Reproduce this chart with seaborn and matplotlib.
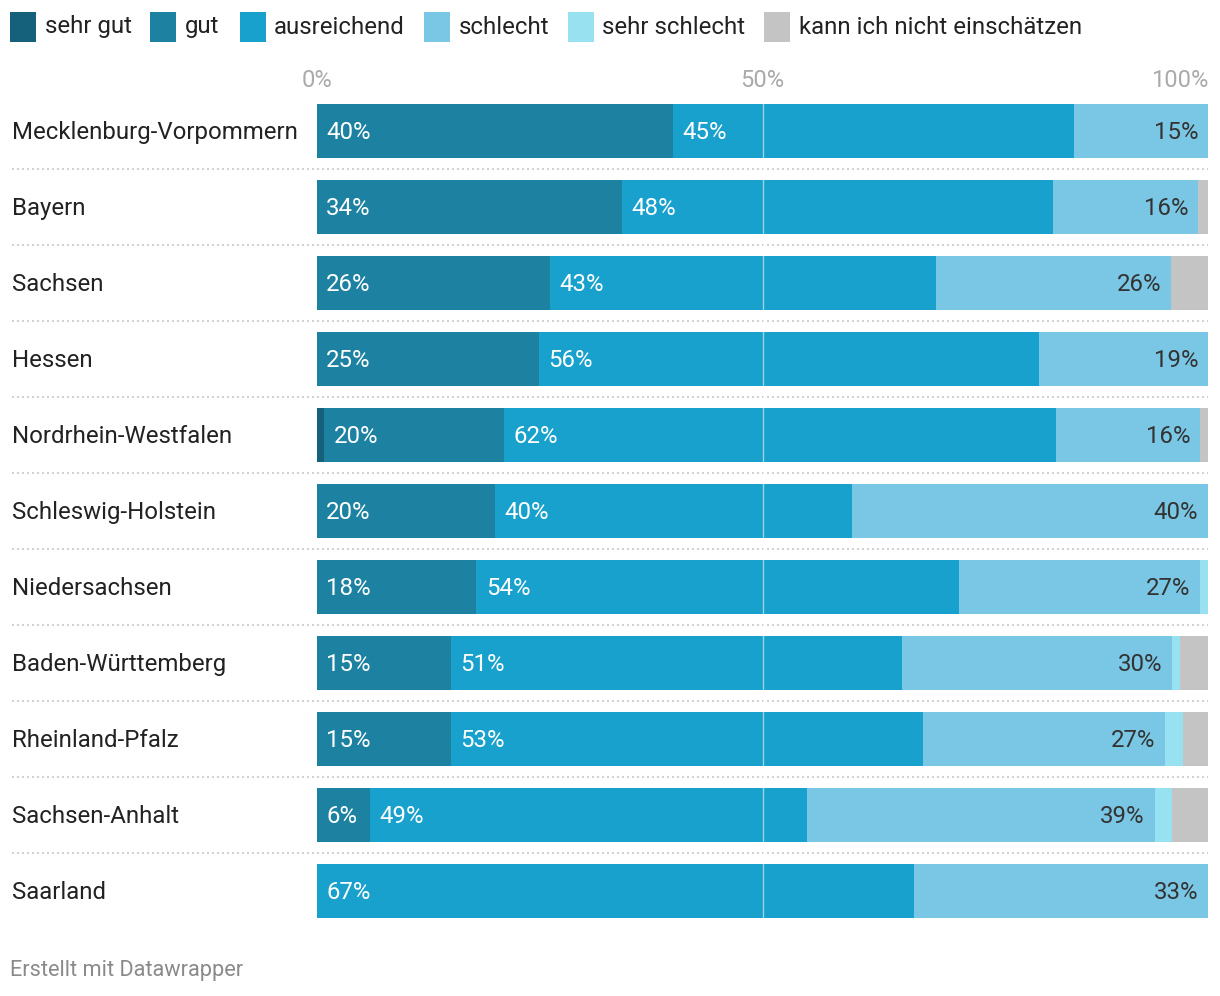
import matplotlib
matplotlib.use("Agg")
import matplotlib.pyplot as plt
import seaborn as sns
import pandas as pd
import numpy as np
from matplotlib.patches import Rectangle

sns.set_theme(style="white")
plt.rcParams['font.family'] = ['Roboto', 'DejaVu Sans']

regions = ["Mecklenburg-Vorpommern", "Bayern", "Sachsen", "Hessen", "Nordrhein-Westfalen",
           "Schleswig-Holstein", "Niedersachsen", "Baden-Württemberg", "Rheinland-Pfalz",
           "Sachsen-Anhalt", "Saarland"]
categories = ["sehr gut", "gut", "ausreichend", "schlecht", "sehr schlecht", "kann ich nicht einschätzen"]
sehr_gut      = [0, 0,    0,    0,    0.8, 0,  0,    0,    0,    0,    0]
gut           = [40, 34.2, 26.1, 24.9, 20.2, 20, 17.9, 15.0, 15.0, 6.0, 0]
ausreichend   = [45, 48.4, 43.4, 56.1, 61.9, 40, 54.1, 50.7, 53.0, 49.0, 67]
schlecht      = [15, 16.3, 26.4, 19.0, 16.2, 40, 27.1, 30.3, 27.2, 39.0, 33]
sehr_schlecht = [0, 0,    0,    0,    0,    0,  0.9,  0.9,  2.0,  2.0,  0]
kann_nicht    = [0, 1.1,  4.1,  0,    0.9,  0,  0,    3.1,  2.8,  4.0,  0]
colors = ["#15607a", "#1d81a2", "#18a1cd", "#79c7e4", "#98e1f0", "#c4c4c4"]
tick_values = [0, 50, 100]
tick_labels = ["0%", "50%", "100%"]

series = [sehr_gut, gut, ausreichend, schlecht, sehr_schlecht, kann_nicht]
df = pd.DataFrame({c: s for c, s in zip(categories, series)}, index=regions)
cum = df.cumsum(axis=1)
starts = cum - df

W, H = 1220, 996
fig = plt.figure(figsize=(W / 100, H / 100), dpi=100)
ax_left, ax_right = 317 / W, 1208 / W
ax_top, ax_bot = 93 / H, 929 / H
ax = fig.add_axes([ax_left, 1 - ax_bot, ax_right - ax_left, ax_bot - ax_top])

for i in range(len(categories) - 1, -1, -1):
    d = pd.DataFrame({"region": regions, "value": cum.iloc[:, i].values})
    sns.barplot(data=d, x="value", y="region", order=regions, color=colors[i],
                width=0.71, orient="h", ax=ax, saturation=1, linewidth=0, zorder=2)

ax.set_xlim(0, 100)
ax.set_ylim(len(regions) - 0.5, -0.5)
ax.axvline(50, color="white", alpha=0.55, lw=1, zorder=3)

dy = 0.025
# value labels
for r, reg in enumerate(regions):
    for i, cat in enumerate(categories):
        v = df.loc[reg, cat]
        if v < 5:
            continue
        if i <= 2:
            ax.text(starts.loc[reg, cat] + 1.05, r + dy, f"{round(v)}%", color="white",
                    va="center", ha="left", fontsize=17.3, zorder=4)
        elif i == 3:
            ax.text(cum.loc[reg, cat] - 1.1, r + dy, f"{round(v)}%", color="#333333",
                    va="center", ha="right", fontsize=17.3, zorder=4)

# separators
for r in range(len(regions) - 1):
    ax.axhline(r + 0.5, xmin=(12 - 317) / 891, xmax=1.0, color="#c8c8c8",
               ls=(0, (1.2, 1.8)), lw=1.2, clip_on=False, zorder=1)

ax.set_xticks(tick_values)
ax.set_xticklabels(tick_labels)
ax.xaxis.tick_top()
ax.tick_params(axis="x", length=0, pad=1, labelsize=17, labelcolor="#aaaaaa")
ax.get_xticklabels()[-1].set_ha("right")
ax.set_yticks(range(len(regions)))
ax.set_yticklabels([])
ax.tick_params(axis="y", length=0)
ax.set_xlabel("")
ax.set_ylabel("")
for s in ax.spines.values():
    s.set_visible(False)

for r, reg in enumerate(regions):
    ax.text(-(317 - 12) / 891 * 100, r + dy, reg, ha="left", va="center",
            fontsize=17.3, color="#222222", clip_on=False)

# legend
box_x = [10, 150, 240, 424, 568, 764]
txt_x = [45, 185, 274, 459, 602, 799]
for bx, tx, c, lab in zip(box_x, txt_x, colors, categories):
    fig.add_artist(Rectangle((bx / W, 1 - 42 / H), 26 / W, 30 / H,
                             transform=fig.transFigure, color=c, lw=0))
    fig.text(tx / W, 1 - 27 / H, lab, ha="left", va="center", fontsize=17.3, color="#222222")

fig.text(10 / W, 1 - 970 / H, "Erstellt mit Datawrapper", ha="left", va="center",
         fontsize=15.7, color="#8a8a8a")

fig.savefig("out.png", dpi=100)
